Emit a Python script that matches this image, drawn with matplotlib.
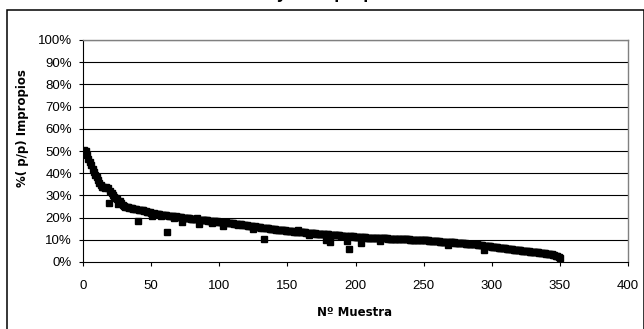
import numpy as np
import matplotlib
matplotlib.use('Agg')
import matplotlib.pyplot as plt
from matplotlib.patches import Rectangle
from matplotlib.ticker import FuncFormatter

# % (p/p) impropios por muestra (muestras 1..350)
impropios = [
    50.5, 49.8, 48.0, 46.5, 45.0, 43.5, 42.0, 40.5, 39.0, 38.5,
    37.0, 35.5, 34.5, 34.0, 33.8, 33.5, 33.6, 33.2, 26.7, 32.0,
    31.0, 30.2, 29.5, 29.0, 28.4, 26.0, 27.5, 26.8, 25.6, 25.2,
    25.0, 24.8, 24.6, 24.5, 24.3, 24.2, 24.0, 23.9, 23.8, 18.6,
    23.6, 23.5, 23.3, 23.2, 23.0, 22.8, 22.7, 22.5, 22.3, 22.2,
    20.8, 22.0, 21.8, 21.7, 21.5, 21.4, 20.5, 21.3, 21.2, 21.1,
    21.0, 13.5, 20.9, 20.8, 20.7, 20.6, 19.8, 20.5, 20.4, 20.3,
    20.2, 20.1, 18.2, 20.0, 19.9, 19.8, 19.7, 19.6, 19.5, 19.4,
    19.4, 19.3, 19.2, 20.0, 17.0, 19.1, 19.0, 18.9, 18.9, 18.8,
    18.7, 18.6, 18.6, 18.5, 17.5, 18.4, 18.3, 18.3, 18.2, 18.1,
    18.0, 17.9, 16.0, 17.8, 17.8, 17.7, 17.6, 17.5, 17.4, 17.4,
    17.3, 17.2, 17.1, 16.5, 17.0, 16.9, 16.8, 16.7, 16.6, 16.5,
    16.4, 16.3, 16.2, 16.1, 15.0, 16.0, 15.9, 15.8, 15.7, 15.6,
    15.5, 15.4, 10.5, 15.3, 15.2, 15.1, 15.0, 14.9, 14.8, 14.8,
    14.7, 14.6, 14.5, 14.5, 14.4, 14.3, 14.3, 14.2, 14.1, 14.0,
    14.0, 13.9, 13.8, 13.8, 13.7, 13.7, 13.6, 14.5, 13.5, 13.5,
    13.4, 13.4, 13.3, 13.2, 13.2, 12.0, 13.1, 13.0, 13.0, 12.9,
    12.8, 12.8, 12.7, 12.7, 12.6, 12.6, 12.5, 10.0, 12.4, 12.4,
    8.8, 12.3, 12.2, 12.2, 12.1, 12.1, 12.0, 12.0, 11.9, 11.9,
    11.8, 11.8, 11.7, 9.5, 6.0, 11.6, 11.5, 11.5, 11.4, 11.4,
    11.3, 11.3, 11.2, 8.5, 11.2, 11.1, 11.1, 11.0, 11.0, 10.9,
    10.9, 10.9, 10.8, 10.8, 10.8, 10.7, 10.7, 9.5, 10.7, 10.6,
    10.6, 10.6, 10.6, 10.5, 10.5, 10.5, 10.5, 10.4, 10.4, 10.4,
    10.4, 10.3, 10.3, 10.3, 10.3, 10.2, 10.2, 10.2, 10.2, 10.1,
    10.1, 10.1, 10.0, 10.0, 10.0, 9.9, 9.9, 9.9, 9.8, 9.8,
    9.8, 9.7, 9.7, 9.6, 9.6, 9.5, 9.5, 9.4, 9.4, 9.3,
    9.3, 9.2, 9.2, 9.1, 9.1, 9.0, 9.0, 7.8, 8.9, 8.9,
    8.8, 8.8, 8.7, 8.7, 8.6, 8.6, 8.5, 8.5, 8.4, 8.4,
    8.3, 8.3, 8.2, 8.2, 8.1, 8.0, 8.0, 7.9, 7.9, 7.8,
    7.7, 7.6, 7.5, 5.5, 7.4, 7.3, 7.2, 7.1, 7.0, 6.9,
    6.8, 6.8, 6.7, 6.6, 6.5, 6.5, 6.4, 6.3, 6.2, 6.1,
    6.0, 5.9, 5.9, 5.8, 5.7, 5.6, 5.5, 5.5, 5.4, 5.3,
    5.2, 5.1, 5.1, 5.0, 4.9, 4.8, 4.8, 4.7, 4.6, 4.5,
    4.5, 4.4, 4.3, 4.3, 4.2, 4.1, 4.0, 4.0, 3.9, 3.8,
    3.7, 3.6, 3.5, 3.4, 3.2, 3.0, 2.8, 2.6, 2.3, 2.0,
]
muestra = np.arange(1, len(impropios) + 1)

x_ticks = [0, 50, 100, 150, 200, 250, 300, 350, 400]
y_ticks = [0, 10, 20, 30, 40, 50, 60, 70, 80, 90, 100]

plt.rcParams['font.family'] = ['Liberation Sans', 'DejaVu Sans']

fig = plt.figure(figsize=(6.44, 3.29), dpi=100)
ax = fig.add_axes([83/644, 1 - 262/329, 545/644, 222/329])

# marco exterior del grafico
fig.patches.append(Rectangle((7/644, -0.05), 636.5/644, 1.05 - 10/329,
                             transform=fig.transFigure, fill=False,
                             edgecolor='black', linewidth=1.1))

# titulo cortado por arriba (solo asoman los trazos descendentes)
fig.text(0.44, 1 + 2.5/329, 'Distribución y % Impropios', ha='center',
         va='baseline', fontsize=13, fontweight='bold')

for v in y_ticks[1:]:
    ax.axhline(v, color='black', linewidth=0.8, zorder=1)

ax.plot(muestra, impropios, linestyle='none', marker='s', markersize=4.6,
        color='black', zorder=3)

ax.set_xlim(0, 400)
ax.set_ylim(0, 100)
ax.set_xticks(x_ticks)
ax.set_yticks(y_ticks)
ax.yaxis.set_major_formatter(FuncFormatter(lambda v, p: '%d%%' % v))
ax.tick_params(direction='out', length=3, width=0.8, labelsize=9.5)
ax.tick_params(axis='x', pad=10)
ax.tick_params(axis='y', pad=5)

ax.spines['top'].set_color('#808080')
ax.spines['right'].set_color('#808080')
ax.spines['top'].set_linewidth(1.0)
ax.spines['right'].set_linewidth(1.0)
ax.spines['left'].set_linewidth(0.8)
ax.spines['bottom'].set_linewidth(0.8)

fig.text(355/644, 1 - 313/329, 'Nº Muestra', ha='center', va='center',
         fontsize=8.5, fontweight='bold', family='DejaVu Sans')
fig.text(23/644, 1 - 128/329, '%( p/p) Impropios', ha='center', va='center',
         rotation=90, fontsize=8.5, fontweight='bold', family='DejaVu Sans')

plt.savefig('out.png', dpi=100)
